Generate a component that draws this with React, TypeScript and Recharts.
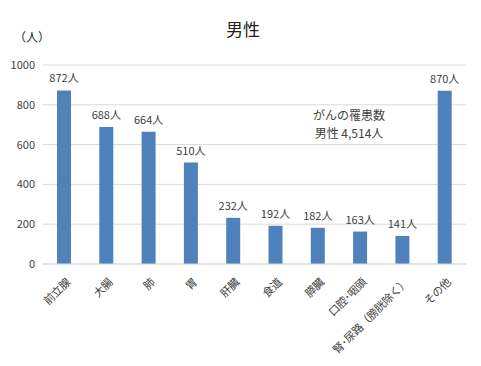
import React from "react";
import { BarChart, Bar, XAxis, YAxis, CartesianGrid, LabelList, Customized } from "recharts";

const categories = ["前立腺", "大腸", "肺", "胃", "肝臓", "食道", "膵臓", "口腔･咽頭", "腎･尿路（膀胱除く）", "その他"];
const counts = [872, 688, 664, 510, 232, 192, 182, 163, 141, 870];
const yTicks = [0, 200, 400, 600, 800, 1000];
const title = "男性";
const unitLabel = "（人）";
const noteLines = ["がんの罹患数", "男性 4,514人"];

const data = categories.map((c, i) => ({ name: c, value: counts[i] }));
const FONT = "'Noto Sans CJK JP', 'Noto Sans', sans-serif";
const TXT = "#404040";

const XTick = (props: any) => {
  const { x, y, payload } = props;
  return (
    <g transform={`translate(${x + 4},${y + 8})`}>
      <text textAnchor="end" transform="rotate(-45)" fontSize={11} fill={TXT} fontFamily={FONT} dy={4} letterSpacing={-0.3}>
        {payload.value}
      </text>
    </g>
  );
};

export default function App() {
  return (
    <div style={{ position: "fixed", left: 0, top: 0, width: 481, height: 366, background: "#fff" }}>
      <BarChart
        width={481}
        height={366}
        data={data}
        margin={{ top: 65, right: 15, bottom: 7, left: 8 }}
        barCategoryGap={14}
      >
        <CartesianGrid vertical={false} stroke="#d9d9d9" strokeWidth={1} />
        <XAxis
          dataKey="name"
          interval={0}
          tickLine={false}
          axisLine={{ stroke: "#d9d9d9" }}
          height={95}
          tick={<XTick />}
        />
        <YAxis
          width={35}
          domain={[0, 1000]}
          ticks={yTicks}
          axisLine={false}
          tickLine={false}
          tick={{ fontSize: 11, fill: TXT, fontFamily: FONT }}
        />
        <Bar dataKey="value" fill="#4F81BD" barSize={14} isAnimationActive={false}>
          <LabelList
            dataKey="value"
            position="top"
            offset={8}
            formatter={(v: any) => `${v}人`}
            style={{ fontSize: 11, fill: TXT, fontFamily: FONT }}
          />
        </Bar>
        <Customized
          component={() => (
            <g fontFamily={FONT} fill={TXT}>
              <text x={243} y={36} textAnchor="middle" fontSize={17} fill="#222">{title}</text>
              <text x={32} y={42} textAnchor="middle" fontSize={12} fill="#222">{unitLabel}</text>
              <text x={349} y={120} textAnchor="middle" fontSize={12}>{noteLines[0]}</text>
              <text x={349} y={138} textAnchor="middle" fontSize={12}>{noteLines[1]}</text>
            </g>
          )}
        />
      </BarChart>
    </div>
  );
}
